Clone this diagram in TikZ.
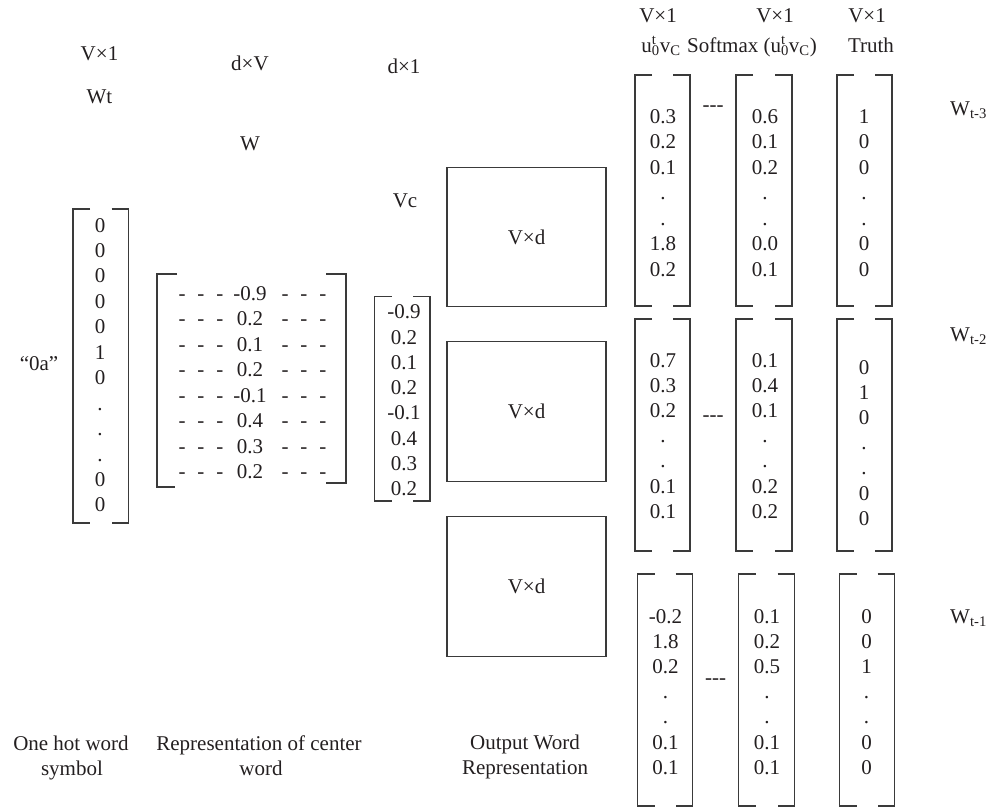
\documentclass[tikz,border=0pt]{standalone}
\usepackage{fontspec}
\setmainfont{Liberation Serif}
\definecolor{ink}{HTML}{231F20}
\definecolor{linec}{HTML}{3A3A3A}
\tikzset{
  txt/.style={inner sep=0pt, text=ink, font=\fontsize{21}{25}\selectfont},
  ent/.style={txt, anchor=base},
  brk/.style={draw=linec, line width=1.3pt},
  mbox/.style={draw=linec, line width=1.3pt, minimum width=159pt, minimum height=139.5pt,
               inner sep=0pt, text=ink, font=\fontsize{21}{25}\selectfont},
}
\newcommand\vbrk[5]{%
  \draw[brk] ({#1+#5},#3) -- (#1,#3) -- (#1,#4) -- ({#1+#5},#4);
  \draw[brk] ({#2-#5},#3) -- (#2,#3) -- (#2,#4) -- ({#2-#5},#4);}
\newcommand\dashgrp{-\hspace{12pt}-\hspace{12pt}-}
\newcommand\uvc{u\makebox[0pt][l]{\textsuperscript{t}}\textsubscript{0}v\textsubscript{C}}
\begin{document}
\begin{tikzpicture}[x=1pt,y=-1pt]
\useasboundingbox (0,0) rectangle (991,807);

% ---------- left labels ----------
\node[ent] (lv1)  at (99.5,60)  {V×1};
\node[ent] (lwt)  at (99.5,103) {Wt};
\node[ent] (ldv)  at (250,70)   {d×V};
\node[ent] (lw)   at (250,150)  {W};
\node[ent] (ld1)  at (404,73)   {d×1};
\node[ent] (lvc)  at (405,207)  {Vc};
\node[ent] (l0a)  at (39,370)   {“0a”};

% ---------- one-hot vector ----------
\vbrk{73}{128.7}{209}{523}{17}
\foreach \v [count=\i] in {0,0,0,0,0,1,0,.,.,.,0,0}
  \node[ent] (oh\i) at (100,{232+25.45*(\i-1)}) {\v};

% ---------- W matrix ----------
\draw[brk] (177,274) -- (157,274) -- (157,487) -- (175,487);
\draw[brk] (326,274) -- (346,274) -- (346,483) -- (326,483);
\foreach \v [count=\i] in {-0.9,0.2,0.1,0.2,-0.1,0.4,0.3,0.2}{
  \node[ent] (wm\i) at (250,{300+25.5*(\i-1)}) {\v};
  \node[ent] (wl\i) at (201,{300+25.5*(\i-1)}) {\dashgrp};
  \node[ent] (wr\i) at (304,{300+25.5*(\i-1)}) {\dashgrp};
}

% ---------- Vc vector ----------
\vbrk{374.7}{430}{296.7}{501}{17}
\foreach \v [count=\i] in {-0.9,0.2,0.1,0.2,-0.1,0.4,0.3,0.2}
  \node[ent] (vc\i) at (404,{318.7+25.3*(\i-1)}) {\v};

% ---------- V x d boxes ----------
\node[mbox] (box1) at (526.5,237)   {V×d};
\node[mbox] (box2) at (526.5,411.5) {V×d};
\node[mbox] (box3) at (526.5,586.5) {V×d};

% ---------- right column headers ----------
\node[ent] (h1) at (658,22) {V×1};
\node[ent] (h2) at (775,22) {V×1};
\node[ent] (h3) at (867,22) {V×1};
\node[ent] (s1) at (661,52) {\uvc};
\node[ent] (s2) at (752,52) {Softmax (\uvc)};
\node[ent] (s3) at (871,52) {Truth};

% ---------- group 1 ----------
\vbrk{635}{690}{75}{306}{17}
\vbrk{736}{792}{75}{306}{17}
\vbrk{837}{892}{75}{306}{17}
\foreach \v [count=\i] in {0.3,0.2,0.1,.,.,1.8,0.2}
  \node[ent] (ga\i) at (663,{123+25.5*(\i-1)}) {\v};
\foreach \v [count=\i] in {0.6,0.1,0.2,.,.,0.0,0.1}
  \node[ent] (gb\i) at (765,{123+25.5*(\i-1)}) {\v};
\foreach \v [count=\i] in {1,0,0,.,.,0,0}
  \node[ent] (gc\i) at (864,{123+25.5*(\i-1)}) {\v};
\node[ent] (sep1) at (713,111.4) {-{}-{}-};
\node[ent, anchor=base west] (wt3) at (950,115) {W\textsubscript{t-3}};

% ---------- group 2 ----------
\vbrk{635}{690}{319}{551}{17}
\vbrk{736}{792}{319}{551}{17}
\vbrk{837}{892}{319}{551}{17}
\foreach \v [count=\i] in {0.7,0.3,0.2,.,.,0.1,0.1}
  \node[ent] (ha\i) at (663,{367+25.2*(\i-1)}) {\v};
\foreach \v [count=\i] in {0.1,0.4,0.1,.,.,0.2,0.2}
  \node[ent] (hb\i) at (765,{367+25.2*(\i-1)}) {\v};
\foreach \v [count=\i] in {0,1,0,.,.,0,0}
  \node[ent] (hc\i) at (864,{374+25.2*(\i-1)}) {\v};
\node[ent] (sep2) at (713,421.4) {-{}-{}-};
\node[ent, anchor=base west] (wt2) at (950,341) {W\textsubscript{t-2}};

% ---------- group 3 ----------
\vbrk{637.5}{692.5}{574}{806}{17}
\vbrk{738.5}{794.5}{574}{806}{17}
\vbrk{839.5}{894.5}{574}{806}{17}
\foreach \v [count=\i] in {-0.2,1.8,0.2,.,.,0.1,0.1}
  \node[ent] (ia\i) at (665.5,{623.5+25.1*(\i-1)}) {\v};
\foreach \v [count=\i] in {0.1,0.2,0.5,.,.,0.1,0.1}
  \node[ent] (ib\i) at (767,{623.5+25.1*(\i-1)}) {\v};
\foreach \v [count=\i] in {0,0,1,.,.,0,0}
  \node[ent] (ic\i) at (866.5,{623.5+25.1*(\i-1)}) {\v};
\node[ent] (sep3) at (715.5,684.7) {-{}-{}-};
\node[ent, anchor=base west] (wt1) at (950,623) {W\textsubscript{t-1}};

% ---------- bottom captions ----------
\node[ent] (c1a) at (71,750)  {One hot word};
\node[ent] (c1b) at (72,775)  {symbol};
\node[ent] (c2a) at (259,750) {Representation of center};
\node[ent] (c2b) at (261,775) {word};
\node[ent] (c3a) at (525,749) {Output Word};
\node[ent] (c3b) at (525,774) {Representation};
\end{tikzpicture}
\end{document}
